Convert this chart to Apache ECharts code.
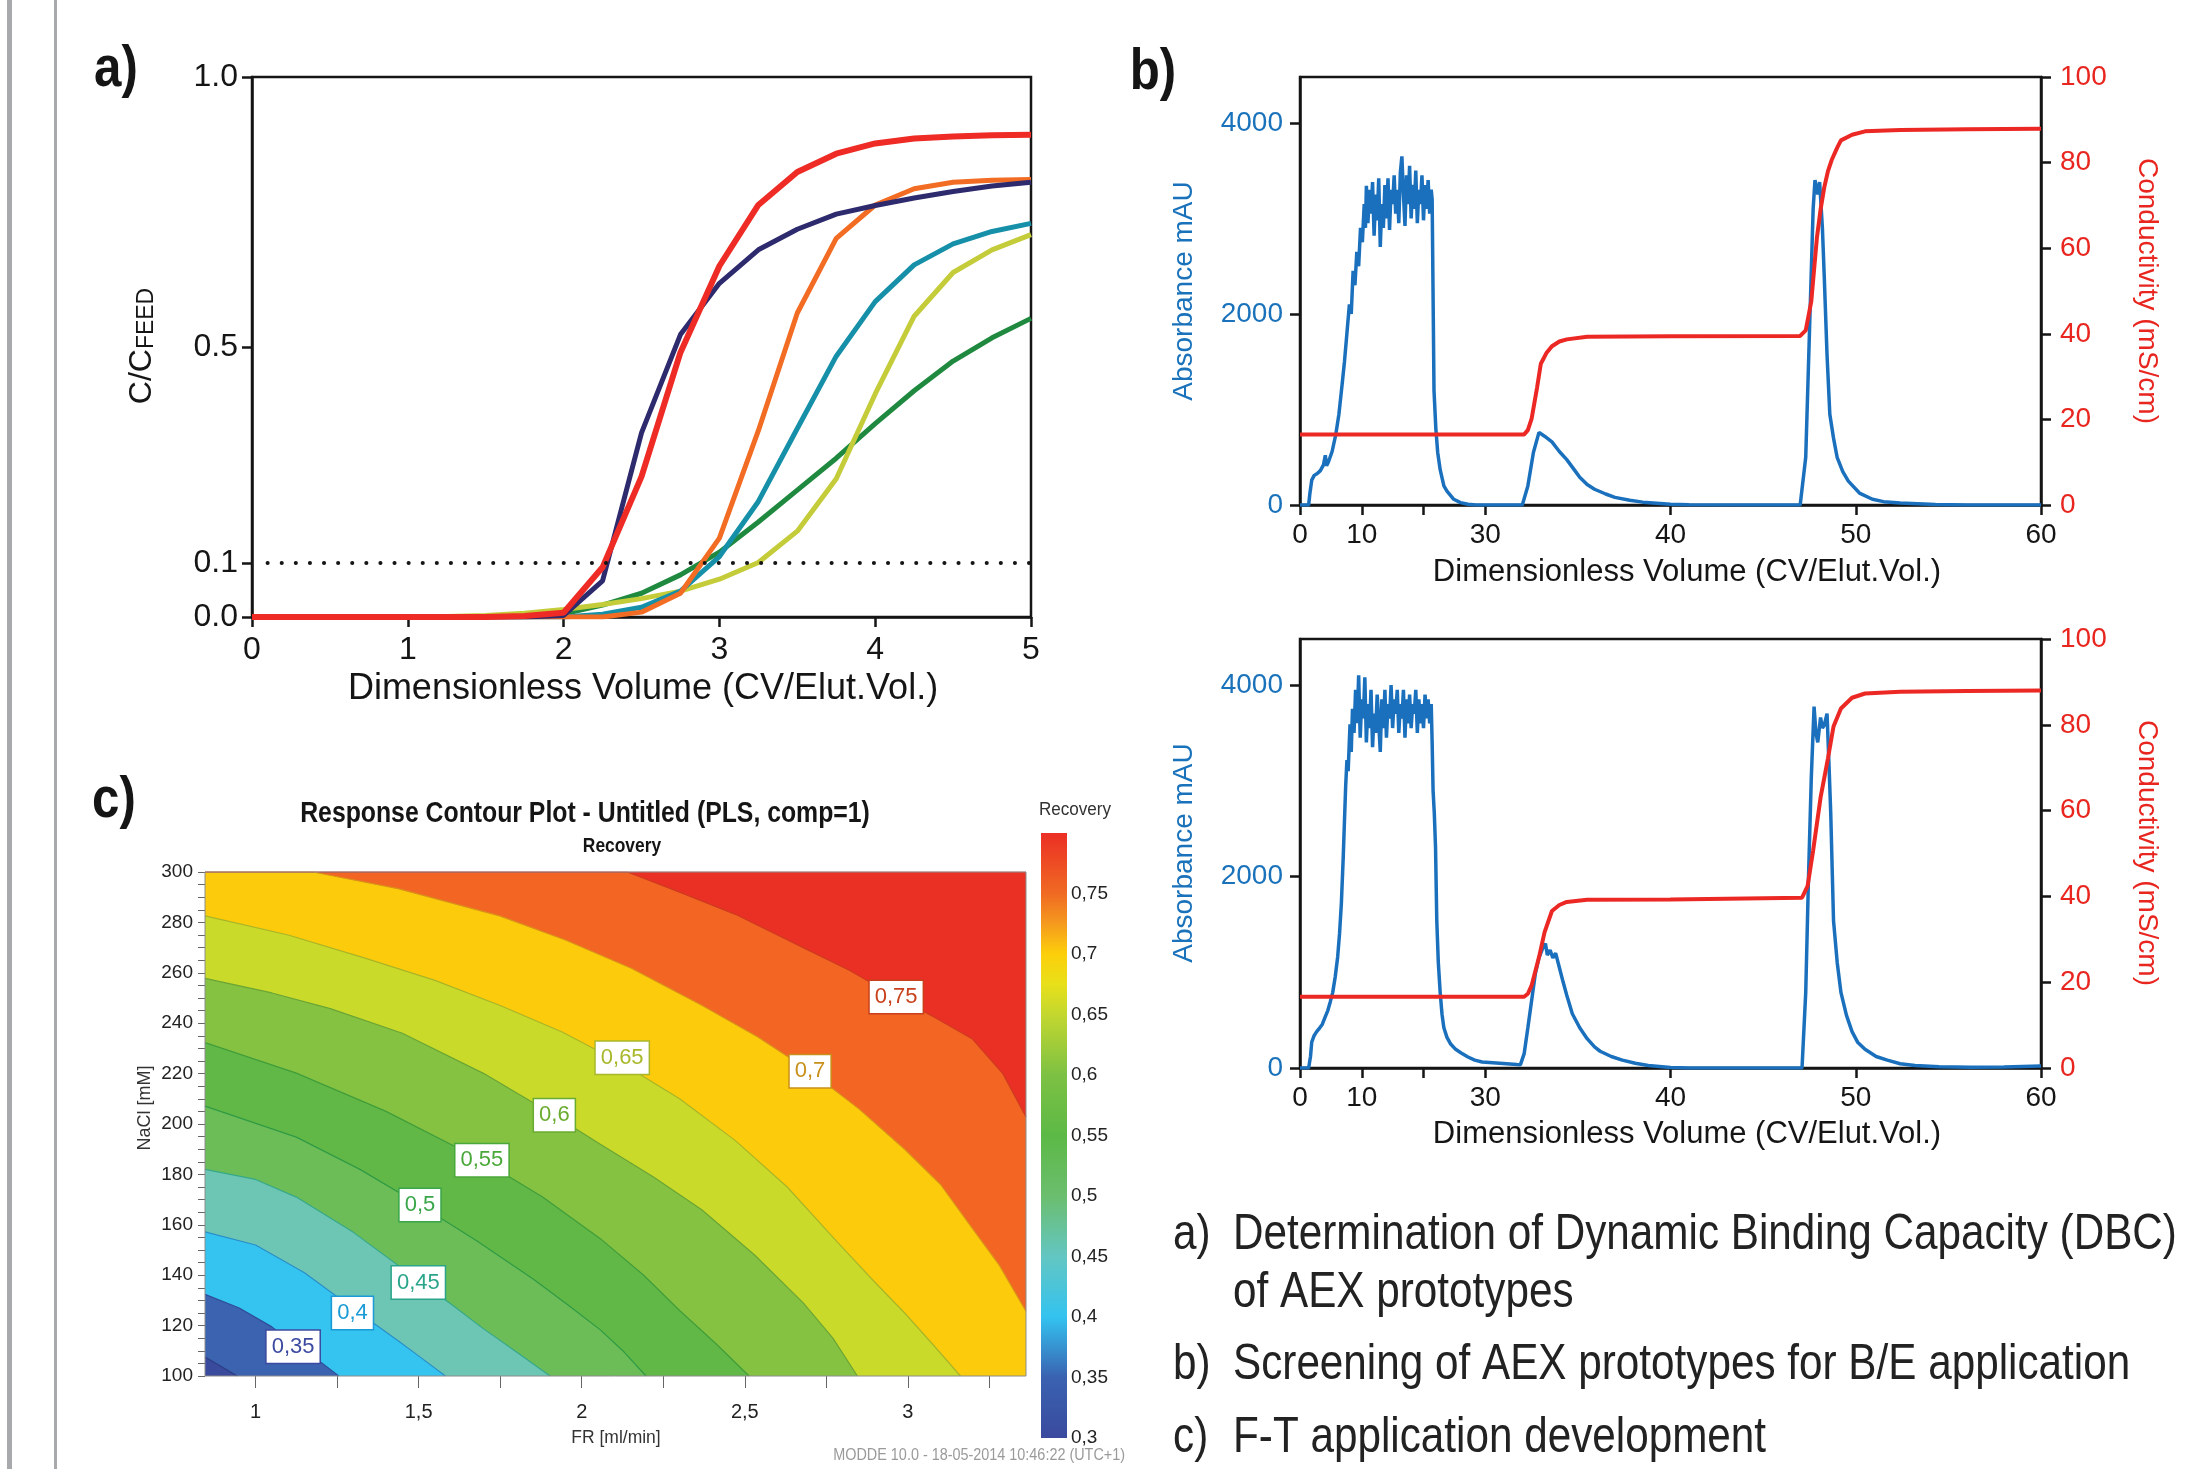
<!DOCTYPE html>
<html><head><meta charset="utf-8">
<script src="https://cdn.jsdelivr.net/npm/echarts@6/dist/echarts.min.js"></script>
<style>html,body{margin:0;padding:0;background:#fff}#c{width:2189px;height:1469px}</style>
</head><body><div id="c"></div><script>
// ================= Panel a : breakthrough curves =================
const volA = [0,0.25,0.5,0.75,1,1.25,1.5,1.75,2,2.25,2.5,2.75,3,3.25,3.5,3.75,4,4.25,4.5,4.75,5];
const dbcGreen  = [0,0,0,0,0,0,0.001,0.003,0.006,0.022,0.044,0.078,0.12,0.176,0.235,0.294,0.358,0.419,0.474,0.517,0.553];
const dbcLime   = [0,0,0,0,0,0.001,0.003,0.007,0.014,0.023,0.034,0.048,0.07,0.101,0.159,0.256,0.413,0.557,0.638,0.68,0.708];
const dbcTeal   = [0,0,0,0,0,0,0,0,0,0.005,0.018,0.048,0.112,0.214,0.349,0.483,0.584,0.652,0.691,0.714,0.729];
const dbcOrange = [0,0,0,0,0,0,0,0,0,0,0.009,0.044,0.146,0.345,0.563,0.701,0.763,0.793,0.805,0.809,0.81];
const dbcNavy   = [0,0,0,0,0,0,0,0,0.003,0.067,0.341,0.523,0.618,0.68,0.718,0.746,0.762,0.776,0.788,0.798,0.805];
const dbcRed    = [0,0,0,0,0,0,0,0.002,0.008,0.092,0.26,0.49,0.65,0.763,0.824,0.858,0.877,0.886,0.89,0.892,0.893];
const dbcThreshold = 0.1;
const aYTicks = [0, 0.1, 0.5, 1.0];

// ================= Panel b : chromatograms (x in CV, y in mAU / mS/cm) =================
const absTop = [[0,0],[1.4,0],[1.6,120],[1.9,260],[2.3,310],[2.8,330],[3.3,360],[3.8,420],[4.1,520],[4.3,410],[4.6,450],[5.2,560],[5.8,740],[6.3,950],[6.8,1250],[7.2,1500],[7.6,1800],[8.0,2100],[8.3,2000],[8.6,2450],[8.9,2300],[9.2,2650],[9.5,2500],[9.8,2900],[10.1,2750],[10.4,3150],[10.6,2900],
 [10.75,3340],[11.0,2950],[11.25,3300],[11.5,3050],[11.75,3380],[12.0,2820],[12.25,3250],[12.5,2980],[12.75,3420],[13.0,2700],[13.25,3150],[13.5,2900],[13.75,3350],[14.0,3000],[14.25,3420],[14.5,2880],[14.75,3300],[15.0,3150],[15.25,3450],[15.5,3050],[15.75,3300],[16.0,2950],[16.25,3480],[16.5,3650],[16.75,3250],[17.0,2920],[17.25,3450],[17.5,3150],[17.75,3550],[18.0,3000],[18.25,3350],[18.5,3100],[18.75,3500],[19.0,2950],[19.25,3300],[19.5,3150],[19.75,3450],[20.0,2980],[20.25,3350],[20.5,3100],[20.75,3400],[21.0,3050],[21.25,3300],
 [21.4,3200],[21.55,2200],[21.7,1200],[22.0,800],[22.3,550],[22.7,370],[23.3,200],[23.8,145],[24.9,60],[26.0,25],[27.2,8],[28.5,0],
 [32.0,0],[32.3,200],[32.6,550],[32.9,760],[33.2,720],[33.6,660],[34.0,560],[34.4,475],[34.8,370],[35.1,290],[35.5,215],[35.9,165],[36.5,115],[37.0,80],[37.8,50],[38.5,30],[40,8],[41,2],
 [47.0,0],[47.3,500],[47.5,1800],[47.7,3100],[47.8,3400],[47.95,3250],[48.05,3380],[48.2,2900],[48.3,2390],[48.45,1570],[48.6,950],[48.8,700],[49.0,495],[49.3,350],[49.6,250],[50.2,125],[50.9,60],[51.5,35],[52.4,20],[54.3,5],[56,0],[60,0]];
const condTop = [[0,16.5],[32.1,16.5],[32.3,17.5],[32.5,20.1],[32.8,27.5],[33.0,33],[33.3,35.5],[33.6,37.1],[34.0,38.2],[34.4,38.7],[35.5,39.3],[40,39.4],[47.0,39.5],[47.3,40.8],[47.6,47.6],[47.9,62.3],[48.1,69],[48.3,74.2],[48.5,78],[48.7,80.6],[49.0,83.5],[49.2,85.2],[49.8,86.5],[50.5,87.3],[52.4,87.6],[56,87.8],[60,87.9]];
const absBottom = [[0,0],[1.4,0],[1.7,120],[1.9,270],[2.3,340],[2.7,380],[3.2,420],[3.6,455],[4.0,520],[4.5,600],[4.9,690],[5.3,790],[5.7,950],[6.1,1160],[6.4,1400],[6.7,1720],[7.0,2200],[7.2,2580],[7.4,2950],[7.6,3215],[7.8,3100],[8.1,3590],[8.3,3300],
 [8.5,3750],[8.75,3500],[9.0,3950],[9.25,3600],[9.5,4100],[9.75,3450],[10.0,3850],[10.25,3650],[10.5,4080],[10.75,3400],[11.0,3800],[11.25,3550],[11.5,3950],[11.75,3350],[12.0,3700],[12.25,3500],[12.5,3900],[12.75,3600],[13.0,3300],[13.25,3850],[13.5,3550],[13.75,3950],[14.0,3450],[14.25,3800],[14.5,3650],[14.75,4000],[15.0,3550],[15.25,3850],[15.5,3700],[15.75,3950],[16.0,3500],[16.25,3800],[16.5,3650],[16.75,3950],[17.0,3450],[17.25,3850],[17.5,3600],[17.75,3900],[18.0,3550],[18.25,3800],[18.5,3700],[18.75,3950],[19.0,3500],[19.25,3850],[19.5,3600],[19.75,3800],[20.0,3550],[20.25,3900],[20.5,3650],[20.75,3850],[21.0,3600],[21.25,3800],
 [21.4,3400],[21.55,2900],[21.75,2660],[21.95,2300],[22.15,1540],[22.4,1100],[22.7,790],[23.0,560],[23.3,420],[23.8,320],[24.4,250],[25.2,195],[26.1,157],[27.2,115],[28.3,82],[29.5,62],[30.6,52],[31.7,37],[31.9,35],
 [32.1,150],[32.3,420],[32.5,700],[32.7,980],[32.9,1150],[33.1,1250],[33.25,1300],[33.35,1180],[33.5,1230],[33.65,1150],[33.8,1200],[34.0,1050],[34.2,900],[34.4,760],[34.7,567],[35.1,420],[35.5,306],[35.9,220],[36.2,175],[36.8,120],[37.4,82],[38.1,50],[38.8,26],[40,4],[41,0],
 [47.1,0],[47.3,790],[47.45,2000],[47.6,3030],[47.75,3775],[47.85,3500],[47.95,3400],[48.1,3660],[48.2,3550],[48.3,3580],[48.45,3700],[48.55,3200],[48.65,2660],[48.8,1540],[49.0,1100],[49.2,790],[49.5,550],[49.8,380],[50.1,270],[50.5,195],[51.1,120],[51.7,82],[52.4,45],[53.2,26],[54.5,12],[56.2,7],[58,10],[60,22]];
const condBottom = [[0,16.6],[32.1,16.6],[32.3,17.3],[32.5,19.2],[32.9,25.8],[33.2,31.6],[33.6,36.6],[34.0,38.0],[34.4,38.7],[35.5,39.2],[40,39.3],[47.1,39.7],[47.4,42.4],[47.7,50.7],[48.1,63],[48.5,72.2],[48.8,79.6],[49.2,83.8],[49.8,86.3],[50.5,87.3],[52.4,87.7],[56,87.9],[60,88]];
const bVolTicks = [0,10,20,30,40,50,60];
const bVolLabels = [0,10,30,40,50,60];
const absTicks = [0,2000,4000];

// ================= Panel c : response contour (FR [ml/min], NaCl [mM]) =================
const recoveryTopEdge = [[0.845,300],[3.362,300]];
const iso075 = [[0.845,300],[2.14,300],[2.3,292],[2.471,283.2],[2.679,270.0],[2.82,261],[2.964,250.4],[3.08,242.5],[3.198,233.7],[3.291,220],[3.362,202.8]];
const iso070 = [[0.845,300],[1.177,300],[1.437,293.4],[1.748,282.6],[1.95,273],[2.152,261.8],[2.368,247.1],[2.54,234.5],[2.7,220.9],[2.85,206],[2.99,190],[3.1,176],[3.198,158.5],[3.28,144],[3.362,125.7]];
const iso065 = [[0.845,282.6],[1.1,275],[1.333,265.9],[1.55,257],[1.748,247.1],[1.94,236.5],[2.124,224],[2.3,210],[2.471,193.4],[2.63,175],[2.783,153.2],[2.9,137],[2.99,125],[3.08,112],[3.161,100]];
const iso060 = [[0.845,257.8],[1.05,252],[1.229,245.8],[1.45,236],[1.7,220],[1.916,203.5],[2.057,192],[2.22,179],[2.368,166],[2.53,148],[2.679,129],[2.77,115],[2.845,100]];
const iso055 = [[0.845,232.3],[1.125,220.2],[1.4,205],[1.694,185.6],[1.88,171],[2.057,154.5],[2.19,140],[2.3,126],[2.41,113],[2.513,100]];
const iso050 = [[0.845,207.1],[1.125,194.8],[1.32,182],[1.504,167.9],[1.68,153.5],[1.852,138.4],[1.96,128],[2.057,118.3],[2.13,109.5],[2.197,100]];
const iso045 = [[0.845,182],[1.0,178],[1.125,171],[1.3,157],[1.499,138],[1.6,128.5],[1.696,119],[1.8,109.5],[1.903,100]];
const iso040 = [[0.845,157.2],[1.0,152],[1.15,141],[1.297,127],[1.437,114],[1.51,107],[1.582,100]];
const iso035 = [[0.845,132.4],[0.95,127],[1.05,119.5],[1.115,113],[1.19,106.5],[1.255,100]];
const iso030 = [[0.845,107.5],[0.944,100]];
const isoLabels = ['0,35','0,4','0,45','0,5','0,55','0,6','0,65','0,7','0,75'];
const isoLabelFR = [1.115,1.297,1.499,1.504,1.694,1.916,2.124,2.7,2.964];
const isoLabelNaCl = [111.6,125.0,137.1,167.9,185.6,203.5,226.3,220.9,250.4];
const frTicks = [1,1.25,1.5,1.75,2,2.25,2.5,2.75,3,3.25];
const frLabels = [1,1.5,2,2.5,3];
const cbLabels = [0.3,0.35,0.4,0.45,0.5,0.55,0.6,0.65,0.7,0.75];
const cbRange = [0.3, 0.8];

// ================= rendering =================
const FONT = "'Liberation Sans', Arial, sans-serif";
const NARROW = "'Liberation Sans Narrow', 'Liberation Sans', sans-serif";
const BLUE = '#1a70bd', RED = '#ec2824', BLK = '#151515';
const T = v => v <= 30 ? v / 3 : v - 20;          // broken x-axis of panel b (0-30 compressed)
const Tinv = t => t <= 10 ? Math.round(t * 3) : Math.round(t + 20);
const comma = v => String(Math.round(v * 100) / 100).replace('.', ',');

const chart = echarts.init(document.getElementById('c'), null, {renderer: 'canvas', width: 2189, height: 1469});

const axLine = {show: true, lineStyle: {color: BLK, width: 2.5}};
const axTick = {show: true, length: 10, lineStyle: {color: BLK, width: 2.5}};

function bX(grid) {
  return {gridIndex: grid, type: 'value', min: 0, max: 40,
    axisLine: axLine, axisTick: Object.assign({}, axTick, {customValues: bVolTicks.map(T)}),
    axisLabel: {customValues: bVolLabels.map(T), formatter: v => String(Tinv(v)), fontSize: 28, fontFamily: FONT, color: BLK, margin: 16},
    splitLine: {show: false}};
}
function bYL(grid) {
  return {gridIndex: grid, type: 'value', min: 0, max: 4480, position: 'left',
    axisLine: axLine, axisTick: Object.assign({}, axTick, {customValues: absTicks}),
    axisLabel: {customValues: absTicks, formatter: v => String(Math.round(v)), fontSize: 28, fontFamily: FONT, color: '#1a72bb', margin: 17},
    splitLine: {show: false}};
}
function bYR(grid) {
  return {gridIndex: grid, type: 'value', min: 0, max: 100, interval: 20, position: 'right',
    axisLine: axLine, axisTick: axTick,
    axisLabel: {fontSize: 28, fontFamily: FONT, color: '#e8261f', margin: 19},
    splitLine: {show: false}};
}

const series = [];
// panel a
[[dbcGreen,'#1f8a3f',5],[dbcLime,'#c4cc3a',5],[dbcTeal,'#1590a8',5],[dbcOrange,'#f26c23',5],[dbcNavy,'#2e2a6e',5],[dbcRed,'#ee2b24',6]].forEach(([arr,col,w]) => {
  series.push({type: 'line', xAxisIndex: 0, yAxisIndex: 0, data: volA.map((x,i) => [x, arr[i]]),
    symbol: 'none', lineStyle: {color: col, width: w}, z: 3});
});
series.push({type: 'line', xAxisIndex: 0, yAxisIndex: 0, data: [[0.1, dbcThreshold],[5, dbcThreshold]],
  symbol: 'none', lineStyle: {color: BLK, width: 4, type: [0.1, 14], cap: 'round'}, z: 4});
// panel b
[[absTop, condTop, 1, 1, 2], [absBottom, condBottom, 2, 3, 4]].forEach(([abs, cond, xi, yl, yr]) => {
  series.push({type: 'line', xAxisIndex: xi, yAxisIndex: yl, data: abs.map(p => [T(p[0]), p[1]]),
    symbol: 'none', lineStyle: {color: BLUE, width: 3.5}, z: 3});
  series.push({type: 'line', xAxisIndex: xi, yAxisIndex: yr, data: cond.map(p => [T(p[0]), p[1]]),
    symbol: 'none', lineStyle: {color: RED, width: 4}, z: 4});
});
// panel c contour bands (filled below each iso-line, drawn from high to low)
[[recoveryTopEdge,'#ea3024','#ea3024'],[iso075,'#f26522','#cf3a20'],[iso070,'#fccb0b','#d9911a'],[iso065,'#c9da2b','#a9b526'],
 [iso060,'#85c242','#6aa534'],[iso055,'#62b846','#3f9d3a'],[iso050,'#6cbd57','#2f9a44'],[iso045,'#6dc6b3','#36a88a'],
 [iso040,'#35c4f0','#2a8fc8'],[iso035,'#3c63b0','#2f4e98'],[iso030,'#3a4b9d','#2c3d85']].forEach(([pts, fill, line]) => {
  series.push({type: 'line', xAxisIndex: 3, yAxisIndex: 5, data: pts, symbol: 'none', smooth: false,
    lineStyle: {color: line, width: 1.2}, areaStyle: {color: fill, opacity: 1, origin: 'start'}, z: 2});
});
const labelColors = ['#3b4aa0','#1a9ad6','#2aa58a','#3aa64a','#4aa83a','#6aac30','#a9b82a','#c8901a','#c8401c'];
series.push({type: 'scatter', xAxisIndex: 3, yAxisIndex: 5, symbolSize: 1, itemStyle: {color: 'rgba(0,0,0,0)'}, z: 6,
  data: isoLabels.map((t, i) => ({name: t, value: [isoLabelFR[i], isoLabelNaCl[i]],
    label: {color: labelColors[i], borderColor: labelColors[i]}})),
  label: {show: true, position: 'inside', formatter: '{b}', backgroundColor: '#ffffff', opacity: 1, borderWidth: 1.5,
    padding: [6, 5, 4, 5], fontSize: 22, fontFamily: FONT}});
// colour bar
series.push({type: 'bar', xAxisIndex: 4, yAxisIndex: 6, stack: 'cb', data: [cbRange[0]], barWidth: '100%', itemStyle: {color: 'rgba(0,0,0,0)'}});
series.push({type: 'bar', xAxisIndex: 4, yAxisIndex: 6, stack: 'cb', data: [cbRange[1] - cbRange[0]], barWidth: '100%',
  itemStyle: {color: new echarts.graphic.LinearGradient(0, 1, 0, 0, [
    {offset: 0, color: '#3a4a9e'}, {offset: 0.1, color: '#3a62b0'}, {offset: 0.2, color: '#33c3f0'},
    {offset: 0.3, color: '#63c6c2'}, {offset: 0.4, color: '#6bbe6e'}, {offset: 0.5, color: '#5cb946'},
    {offset: 0.6, color: '#7dc143'}, {offset: 0.7, color: '#c3d72f'}, {offset: 0.75, color: '#e8e01a'},
    {offset: 0.8, color: '#fccf0a'}, {offset: 0.85, color: '#f59a1e'}, {offset: 0.9, color: '#f06a23'},
    {offset: 1, color: '#eb2f25'}])}});

function txt(text, x, y, font, opts) {
  opts = opts || {};
  const el = {type: 'text', x: x, y: y, z: 20, rotation: opts.rotation || 0,
    style: Object.assign({text: text, font: font, fill: BLK, textAlign: 'center', textVerticalAlign: 'middle'}, opts.style || {})};
  if (opts.scaleX) el.scaleX = opts.scaleX;
  return el;
}
const CAP = '50px ' + FONT, capOpt = {scaleX: 0.845, style: {textAlign: 'left', fill: '#222'}};

const graphics = [
  {type: 'rect', shape: {x: 7, y: 0, width: 5, height: 1469}, style: {fill: '#a7a9ac'}},
  {type: 'rect', shape: {x: 54, y: 0, width: 3, height: 1469}, style: {fill: '#a7a9ac'}},
  {type: 'rect', shape: {x: 205, y: 872, width: 821, height: 504}, style: {fill: 'none', stroke: '#8c8c8c', lineWidth: 1}, z: 10},
  txt('a)', 116, 70, "bold 58px " + FONT, {scaleX: 0.85}),
  txt('b)', 1153, 73, "bold 58px " + FONT, {scaleX: 0.85}),
  txt('c)', 114, 801, "bold 58px " + FONT, {scaleX: 0.85}),
  // panel a
  {type: 'text', x: 142, y: 346, rotation: Math.PI / 2, z: 20,
   style: {text: '{m|C/C}{s|FEED}', textAlign: 'center', textVerticalAlign: 'middle', fill: BLK,
     rich: {m: {fontSize: 32, fontFamily: FONT, fill: BLK, lineHeight: 32, verticalAlign: 'top'},
            s: {fontSize: 23, fontFamily: FONT, fill: BLK, lineHeight: 23, padding: [16, 0, 0, 0], verticalAlign: 'bottom'}}}},
  txt('Dimensionless Volume (CV/Elut.Vol.)', 643, 689, '36px ' + FONT),
  // panel b
  txt('Absorbance mAU', 1184, 291, '28px ' + FONT, {rotation: Math.PI / 2, style: {fill: '#1a72bb'}}),
  txt('Conductivity (mS/cm)', 2147, 291, '28px ' + FONT, {rotation: -Math.PI / 2, style: {fill: '#e8261f'}}),
  txt('Dimensionless Volume (CV/Elut.Vol.)', 1687, 572, '31px ' + FONT),
  txt('Absorbance mAU', 1184, 853, '28px ' + FONT, {rotation: Math.PI / 2, style: {fill: '#1a72bb'}}),
  txt('Conductivity (mS/cm)', 2147, 853, '28px ' + FONT, {rotation: -Math.PI / 2, style: {fill: '#e8261f'}}),
  txt('Dimensionless Volume (CV/Elut.Vol.)', 1687, 1134, '31px ' + FONT),
  // panel c
  txt('Response Contour Plot - Untitled (PLS, comp=1)', 585, 814, 'bold 29px ' + FONT, {scaleX: 0.855}),
  txt('Recovery', 622, 846, 'bold 20px ' + FONT, {scaleX: 0.87}),
  txt('Recovery', 1075, 810, '18px ' + FONT, {scaleX: 0.95, style: {fill: '#333'}}),
  txt('NaCl [mM]', 145, 1108, '18px ' + FONT, {rotation: Math.PI / 2, style: {fill: '#333'}}),
  txt('FR [ml/min]', 616, 1438, '19px ' + FONT, {scaleX: 0.92, style: {fill: '#333'}}),
  txt('MODDE 10.0 - 18-05-2014 10:46:22 (UTC+1)', 1125, 1456, '16px ' + FONT, {scaleX: 0.9, style: {fill: '#9a9a9a', textAlign: 'right'}}),
  // captions
  txt('a)', 1173, 1235, CAP, capOpt),
  txt('Determination of Dynamic Binding Capacity (DBC)', 1233, 1235, CAP, capOpt),
  txt('of AEX prototypes', 1233, 1293, CAP, capOpt),
  txt('b)', 1173, 1365, CAP, capOpt),
  txt('Screening of AEX prototypes for B/E application', 1233, 1365, CAP, capOpt),
  txt('c)', 1173, 1438, CAP, capOpt),
  txt('F-T application development', 1233, 1438, CAP, capOpt)
];

const option = {
  animation: false,
  backgroundColor: '#fff',
  grid: [
    {left: 252, top: 77, width: 779, height: 540, show: true, borderColor: BLK, borderWidth: 2.5},
    {left: 1300, top: 77, width: 741, height: 428, show: true, borderColor: BLK, borderWidth: 2.5},
    {left: 1300, top: 639, width: 741, height: 429, show: true, borderColor: BLK, borderWidth: 2.5},
    {left: 205, top: 872, width: 821, height: 504},
    {left: 1041, top: 833, width: 26, height: 605}
  ],
  xAxis: [
    {gridIndex: 0, type: 'value', min: 0, max: 5, interval: 1, axisLine: axLine, axisTick: axTick,
     axisLabel: {fontSize: 32, fontFamily: FONT, color: BLK, margin: 17}, splitLine: {show: false}},
    bX(1), bX(2),
    {gridIndex: 3, type: 'value', min: 0.845, max: 3.362, axisLine: {show: false},
     axisTick: {show: true, customValues: frTicks, length: 12, lineStyle: {color: '#666', width: 1}},
     axisLabel: {customValues: frLabels, formatter: comma, fontSize: 20, fontFamily: FONT, color: '#222', margin: 26},
     splitLine: {show: false}},
    {gridIndex: 4, type: 'category', data: ['Recovery'], show: false}
  ],
  yAxis: [
    {gridIndex: 0, type: 'value', min: 0, max: 1, axisLine: axLine,
     axisTick: Object.assign({}, axTick, {customValues: aYTicks}),
     axisLabel: {customValues: aYTicks, formatter: v => v.toFixed(1), fontSize: 32, fontFamily: FONT, color: BLK, margin: 14},
     splitLine: {show: false}},
    bYL(1), bYR(1), bYL(2), bYR(2),
    {gridIndex: 3, type: 'value', min: 100, max: 300, interval: 20, axisLine: {show: false},
     axisTick: {show: true, length: 7, lineStyle: {color: '#666', width: 1}},
     minorTick: {show: true, splitNumber: 4, length: 7, lineStyle: {color: '#666', width: 1}},
     axisLabel: {fontSize: 19, fontFamily: FONT, color: '#222', margin: 12},
     splitLine: {show: false}, minorSplitLine: {show: false}},
    {gridIndex: 4, type: 'value', min: cbRange[0], max: cbRange[1], position: 'right',
     axisLine: {show: false}, axisTick: {show: false}, splitLine: {show: false},
     axisLabel: {customValues: cbLabels, formatter: comma, fontSize: 19, fontFamily: FONT, color: '#222', margin: 4}}
  ],
  series: series,
  graphic: {elements: graphics}
};
chart.setOption(option);
</script></body></html>
